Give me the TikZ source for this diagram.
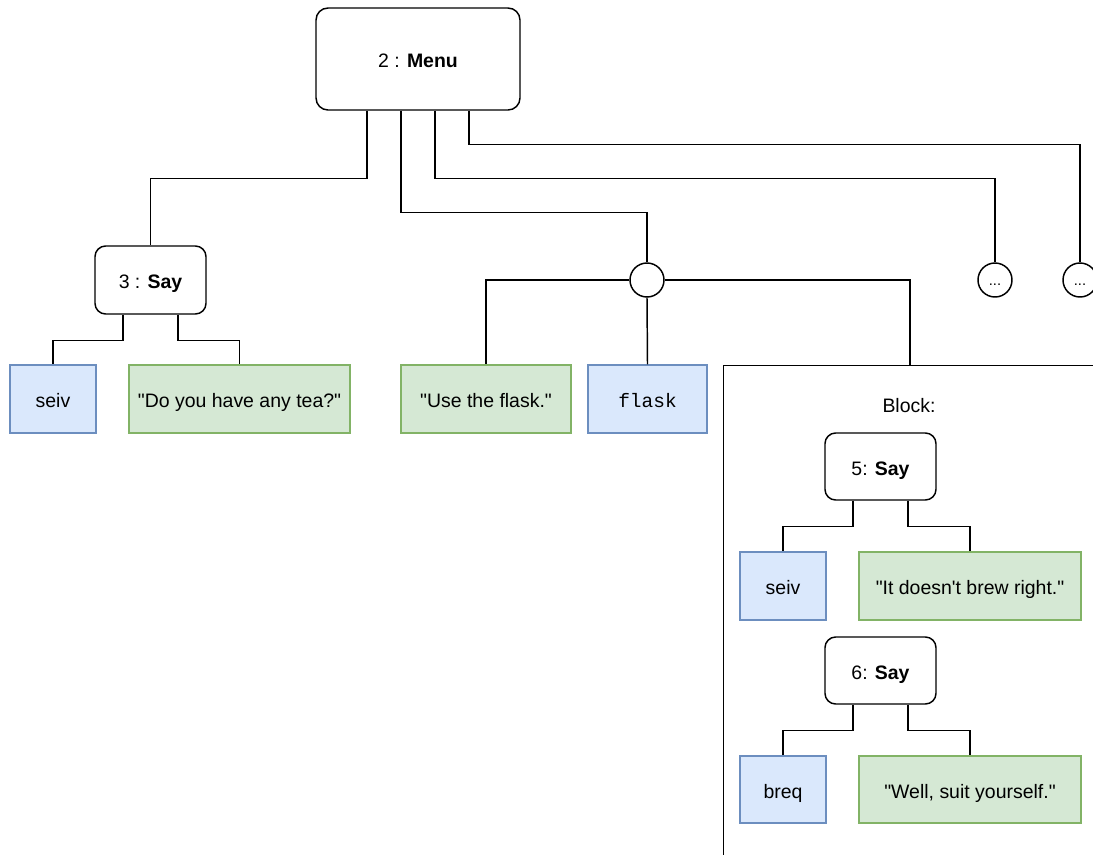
\documentclass[tikz,border=0pt]{standalone}
\usepackage{fontspec}
\setmainfont{Liberation Sans}
\setmonofont{Liberation Mono}
\usetikzlibrary{calc}
\definecolor{bfill}{HTML}{DAE8FC}
\definecolor{bdraw}{HTML}{6C8EBF}
\definecolor{gfill}{HTML}{D5E8D4}
\definecolor{gdraw}{HTML}{82B366}
\newcommand\dq{\textquotedbl}
\newcommand\sq{\textquotesingle}
\begin{document}
\begin{tikzpicture}[x=0.75pt,y=-0.75pt,
  every node/.style={font=\fontsize{14.6}{17}\selectfont, inner sep=0pt, text height=13pt, text depth=0pt},
  wire/.style={line width=1.1pt, black},
  bx/.style 2 args={minimum width=#1*0.75pt, minimum height=#2*0.75pt},
  stmt/.style={draw, line width=1.1pt, rounded corners=8pt, fill=white},
  var/.style={draw=bdraw, fill=bfill, line width=1.1pt},
  strbox/.style={draw=gdraw, fill=gfill, line width=1.1pt},
  junc/.style={circle, draw, line width=1.1pt, fill=white, minimum size=34*0.75pt, text height=7.5pt, text depth=0pt},
  blockbox/.style={draw, line width=1.1pt, anchor=north west}]
\path[use as bounding box, clip] (0,0) rectangle (1093,854);

% nodes
\node[stmt, bx={204}{102}, rounded corners=9pt] (menu) at (418,59) {2 : \textbf{Menu}};
\node[stmt, bx={111}{68}] (say3) at (150.5,280) {3 : \textbf{Say}};
\node[var, bx={86}{68}] (seiv1) at (53,399) {seiv};
\node[strbox, bx={221}{68}] (tea) at (239.5,399) {\dq Do you have any tea?\dq};
\node[junc] (circ) at (647,280) {};
\node[strbox, bx={170}{68}] (use) at (486,399) {\dq Use the flask.\dq};
\node[var, bx={119}{68}] (flask) at (647.5,399) {\texttt{flask}};
\node[junc, font=\fontsize{11}{12}\selectfont] (dots1) at (995,280) {...};
\node[junc, font=\fontsize{11}{12}\selectfont] (dots2) at (1080,280) {...};
\node[blockbox, bx={477}{635}] (block) at (723,365) {};
\node (blocklabel) at (909,404) {Block:};
\coordinate (blocktop) at (910,365);
\node[stmt, bx={111}{67}] (say5) at (880.5,466.5) {5: \textbf{Say}};
\node[var, bx={86}{68}] (seiv2) at (783,586) {seiv};
\node[strbox, bx={222}{68}] (brew) at (970,586) {\dq It doesn\sq t brew right.\dq};
\node[stmt, bx={111}{67}] (say6) at (880.5,670.5) {6: \textbf{Say}};
\node[var, bx={86}{67}] (breq) at (783,789.5) {breq};
\node[strbox, bx={222}{67}] (well) at (970,789.5) {\dq Well, suit yourself.\dq};

% connectors from menu
\draw[wire] ($(menu.south)+(-51,0)$) -- ++(0,68) -| (say3.north);
\draw[wire] ($(menu.south)+(-17,0)$) -- ++(0,102) -| (circ.north);
\draw[wire] ($(menu.south)+(17,0)$) -- ++(0,68) -| (dots1.north);
\draw[wire] ($(menu.south)+(51,0)$) -- ++(0,34) -| (dots2.north);

% say3 children
\draw[wire] ($(say3.south)+(-27.5,0)$) -- ++(0,26) -| (seiv1.north);
\draw[wire] ($(say3.south)+(27.5,0)$) -- ++(0,26) -| (tea.north);

% junction children
\draw[wire] (circ.west) -| (use.north);
\draw[wire] (circ.south) -- (flask.north);
\draw[wire] (circ.east) -| (blocktop);

% say5 children
\draw[wire] ($(say5.south)+(-27.5,0)$) -- ++(0,26) -| (seiv2.north);
\draw[wire] ($(say5.south)+(27.5,0)$) -- ++(0,26) -| (brew.north);

% say6 children
\draw[wire] ($(say6.south)+(-27.5,0)$) -- ++(0,26) -| (breq.north);
\draw[wire] ($(say6.south)+(27.5,0)$) -- ++(0,26) -| (well.north);
\end{tikzpicture}
\end{document}
